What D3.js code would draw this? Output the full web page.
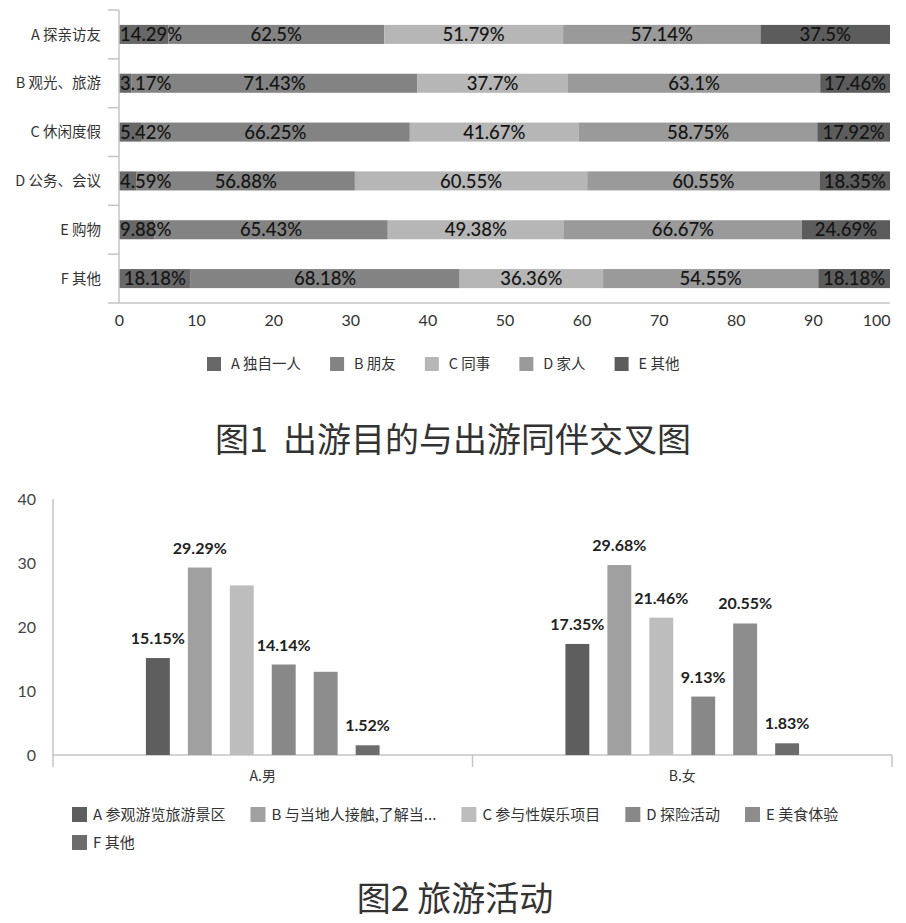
<!DOCTYPE html>
<html>
<head>
<meta charset="utf-8">
<script src="https://cdn.jsdelivr.net/npm/d3@7"></script>
<style>
  body { margin: 0; background: #fff; }
  svg { display: block; }
</style>
</head>
<body>
<script>
// ---- data: figure 1 (travel purpose x travel companion) ----
const purposes = ["A 探亲访友", "B 观光、旅游", "C 休闲度假", "D 公务、会议", "E 购物", "F 其他"];
const companions = ["A 独自一人", "B 朋友", "C 同事", "D 家人", "E 其他"];
const aloneVals = [14.29, 3.17, 5.42, 4.59, 9.88, 18.18];
const friendVals = [62.5, 71.43, 66.25, 56.88, 65.43, 68.18];
const colleagueVals = [51.79, 37.7, 41.67, 60.55, 49.38, 36.36];
const familyVals = [57.14, 63.1, 58.75, 60.55, 66.67, 54.55];
const otherVals = [37.5, 17.46, 17.92, 18.35, 24.69, 18.18];
const xTicks1 = [0, 10, 20, 30, 40, 50, 60, 70, 80, 90, 100];

// ---- data: figure 2 (travel activities by gender) ----
const genders = ["A.男", "B.女"];
const activities = ["A 参观游览旅游景区", "B 与当地人接触,了解当...", "C 参与性娱乐项目", "D 探险活动", "E 美食体验", "F 其他"];
const maleVals = [15.15, 29.29, 26.5, 14.14, 13.0, 1.52];
const femaleVals = [17.35, 29.68, 21.46, 9.13, 20.55, 1.83];
const maleLabels = ["15.15%", "29.29%", "", "14.14%", "", "1.52%"];
const femaleLabels = ["17.35%", "29.68%", "21.46%", "9.13%", "20.55%", "1.83%"];
const yTicks2 = [0, 10, 20, 30, 40];

const width = 906;
const height = 923;
const numFont = "Lato, 'Noto Sans', sans-serif";
const cjkFont = "'Noto Sans CJK SC', 'Noto Sans', sans-serif";
const axisColor = "#c4c4c4";

const svg = d3.select("body")
  .append("svg")
  .attr("width", width)
  .attr("height", height);

svg.append("rect").attr("width", width).attr("height", height).attr("fill", "#fff");

// ================= Figure 1 =================
const colors1 = ["#686868", "#838383", "#b6b6b6", "#9a9a9a", "#5c5c5c"];
const seriesVals = [aloneVals, friendVals, colleagueVals, familyVals, otherVals];

const x1 = d3.scaleLinear().domain([0, 100]).range([119, 890]);
const y1 = d3.scaleBand().domain(purposes).range([10, 303])
  .paddingInner(0.61).paddingOuter(0.305);

// rows normalised to 100%
const rows = purposes.map((p, i) => {
  const vals = seriesVals.map(s => s[i]);
  const total = d3.sum(vals);
  let acc = 0;
  const segs = vals.map((v, k) => {
    const start = acc / total * 100;
    acc += v;
    return { purpose: p, k, v, start, end: acc / total * 100 };
  });
  return segs;
});

const g1 = svg.append("g");

g1.selectAll("g.row")
  .data(rows)
  .enter()
  .append("g")
  .attr("class", "row")
  .each(function(segs) {
    const row = d3.select(this);
    row.selectAll("rect")
      .data(segs)
      .enter()
      .append("rect")
      .attr("x", d => x1(d.start))
      .attr("y", d => y1(d.purpose))
      .attr("width", d => x1(d.end) - x1(d.start))
      .attr("height", y1.bandwidth())
      .attr("fill", d => colors1[d.k]);

    row.selectAll("text")
      .data(segs)
      .enter()
      .append("text")
      .attr("x", d => x1((d.start + d.end) / 2))
      .attr("y", d => y1(d.purpose) + y1.bandwidth() / 2)
      .attr("dy", "0.36em")
      .attr("text-anchor", "middle")
      .attr("font-family", numFont)
      .attr("font-size", 18.5)
      .attr("font-weight", 500)
      .attr("fill", "#141414")
      .text(d => d.v + "%")
      .each(function() {
        // keep labels inside the plot area like the original
        const t = d3.select(this);
        const w = this.getComputedTextLength();
        const cx = +t.attr("x");
        if (cx - w / 2 < x1(0) + 1) t.attr("x", x1(0) + 1 + w / 2);
        if (cx + w / 2 > x1(100) - 1) t.attr("x", x1(100) - 1 - w / 2);
      });
  });

// axes of figure 1
const boundaries = purposes.map(p => y1(p) - (y1.step() - y1.bandwidth()) / 2);
g1.append("line")
  .attr("x1", x1(0)).attr("x2", x1(0))
  .attr("y1", 10).attr("y2", 303)
  .attr("stroke", axisColor).attr("stroke-width", 1.5);
g1.selectAll("line.ytick")
  .data(boundaries)
  .enter()
  .append("line")
  .attr("class", "ytick")
  .attr("x1", x1(0) - 11).attr("x2", x1(0))
  .attr("y1", d => d).attr("y2", d => d)
  .attr("stroke", axisColor).attr("stroke-width", 1.5);
g1.append("line")
  .attr("x1", x1(0) - 11).attr("x2", x1(100))
  .attr("y1", 303).attr("y2", 303)
  .attr("stroke", axisColor).attr("stroke-width", 1.5);

g1.selectAll("text.cat")
  .data(purposes)
  .enter()
  .append("text")
  .attr("class", "cat")
  .attr("x", 101)
  .attr("y", d => y1(d) + y1.bandwidth() / 2)
  .attr("dy", "0.36em")
  .attr("text-anchor", "end")
  .attr("font-family", cjkFont)
  .attr("font-size", 14.5)
  .attr("fill", "#333")
  .text(d => d);

const xAxis1 = d3.axisBottom(x1).tickValues(xTicks1).tickSize(0).tickPadding(12);
g1.append("g")
  .attr("transform", "translate(0,303)")
  .call(xAxis1)
  .call(g => g.select(".domain").remove())
  .call(g => g.selectAll("text")
    .attr("font-family", numFont)
    .attr("font-size", 16)
    .attr("fill", "#333"))
  .call(g => g.selectAll(".tick").filter(d => d === 100).select("text")
    .attr("text-anchor", "end"));

// legend of figure 1
const leg1 = svg.append("g").attr("transform", "translate(207,357)");
let lx = 0;
companions.forEach((c, k) => {
  const item = leg1.append("g").attr("transform", `translate(${lx},0)`);
  item.append("rect").attr("width", 14).attr("height", 14).attr("fill", colors1[k]);
  const t = item.append("text")
    .attr("x", 24).attr("y", 7).attr("dy", "0.36em")
    .attr("font-family", cjkFont).attr("font-size", 14.5).attr("fill", "#333")
    .text(c);
  lx += 24 + t.node().getComputedTextLength() + 29;
});

svg.append("text")
  .attr("x", width / 2).attr("y", 452)
  .attr("text-anchor", "middle")
  .attr("font-family", cjkFont)
  .attr("font-size", 34)
  .attr("fill", "#333")
  .style("white-space", "pre")
  .text("图1  出游目的与出游同伴交叉图");

// ================= Figure 2 =================
const colors2 = ["#5e5e5e", "#a0a0a0", "#bdbdbd", "#888888", "#8c8c8c", "#6c6c6c"];
const groups = [maleVals, femaleVals];
const groupLabels = [maleLabels, femaleLabels];

const y2 = d3.scaleLinear().domain([0, 40]).range([755, 499]);
const x0 = d3.scaleBand().domain(genders).range([53, 892]);
const xInner = d3.scaleBand().domain(activities)
  .range([x0.bandwidth() * 0.2, x0.bandwidth() * 0.8])
  .paddingInner(0.43).paddingOuter(0.215);

const g2 = svg.append("g");

const yAxis2 = d3.axisLeft(y2).tickValues(yTicks2).tickSize(0).tickPadding(0);
g2.append("g")
  .attr("transform", "translate(36,0)")
  .call(yAxis2)
  .call(g => g.select(".domain").remove())
  .call(g => g.selectAll("text")
    .attr("font-family", numFont)
    .attr("font-size", 16)
    .attr("fill", "#444"));

// axis lines
g2.append("line")
  .attr("x1", 53).attr("x2", 53)
  .attr("y1", y2(40)).attr("y2", y2(0) + 12)
  .attr("stroke", axisColor).attr("stroke-width", 1.5);
g2.append("line")
  .attr("x1", 53).attr("x2", x0.range()[1])
  .attr("y1", y2(0)).attr("y2", y2(0))
  .attr("stroke", axisColor).attr("stroke-width", 1.5);
g2.selectAll("line.xtick")
  .data(genders)
  .enter()
  .append("line")
  .attr("class", "xtick")
  .attr("x1", d => x0(d) + x0.bandwidth()).attr("x2", d => x0(d) + x0.bandwidth())
  .attr("y1", y2(0)).attr("y2", y2(0) + 12)
  .attr("stroke", axisColor).attr("stroke-width", 1.5);

const gGroups = g2.selectAll("g.grp")
  .data(genders)
  .enter()
  .append("g")
  .attr("class", "grp")
  .attr("transform", d => `translate(${x0(d)},0)`);

gGroups.each(function(gName, gi) {
  const grp = d3.select(this);
  const vals = groups[gi];
  const labs = groupLabels[gi];
  grp.selectAll("rect")
    .data(activities)
    .enter()
    .append("rect")
    .attr("x", a => xInner(a))
    .attr("y", (a, k) => y2(vals[k]))
    .attr("width", xInner.bandwidth())
    .attr("height", (a, k) => y2(0) - y2(vals[k]))
    .attr("fill", (a, k) => colors2[k]);
  grp.selectAll("text.val")
    .data(activities)
    .enter()
    .append("text")
    .attr("class", "val")
    .attr("x", a => xInner(a) + xInner.bandwidth() / 2)
    .attr("y", (a, k) => y2(vals[k]) - 14)
    .attr("text-anchor", "middle")
    .attr("font-family", numFont)
    .attr("font-size", 16)
    .attr("font-weight", 700)
    .attr("fill", "#222")
    .text((a, k) => labs[k]);
  grp.append("text")
    .attr("x", x0.bandwidth() / 2)
    .attr("y", 781)
    .attr("text-anchor", "middle")
    .attr("font-family", cjkFont)
    .attr("font-size", 14)
    .attr("fill", "#333")
    .text(gName);
});

// legend of figure 2 (wraps after five items)
const leg2 = svg.append("g").attr("transform", "translate(72,807)");
let l2x = 0;
activities.forEach((a, k) => {
  const row = k < 5 ? 0 : 1;
  if (k === 5) l2x = 0;
  const item = leg2.append("g").attr("transform", `translate(${l2x},${row * 28})`);
  item.append("rect").attr("width", 15).attr("height", 15).attr("fill", colors2[k]);
  const t = item.append("text")
    .attr("x", 21).attr("y", 7.5).attr("dy", "0.36em")
    .attr("font-family", cjkFont).attr("font-size", 15).attr("fill", "#333")
    .text(a);
  l2x += 21 + t.node().getComputedTextLength() + 25;
});

svg.append("text")
  .attr("x", width / 2 + 2).attr("y", 911)
  .attr("text-anchor", "middle")
  .attr("font-family", cjkFont)
  .attr("font-size", 34)
  .attr("fill", "#333")
  .style("white-space", "pre")
  .text("图2 旅游活动");
</script>
</body>
</html>
